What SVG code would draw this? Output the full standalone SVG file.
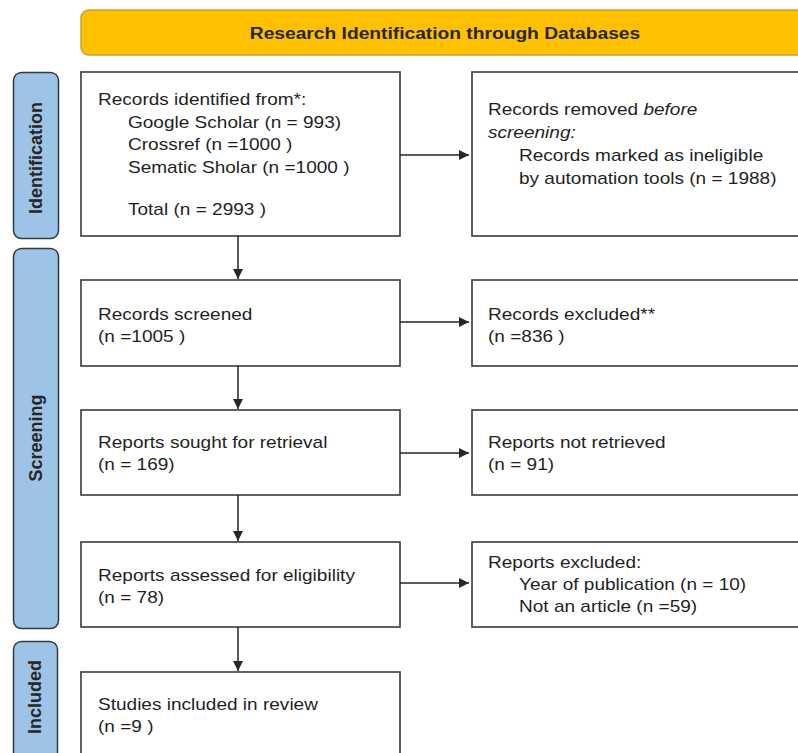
<svg xmlns="http://www.w3.org/2000/svg" width="798" height="753" viewBox="0 0 798 753">
<style>
.bx{fill:#fff;stroke:#3a3a3a;stroke-width:1.6}
.side{fill:#9DC3E6;stroke:#2F3A45;stroke-width:1.5}
.t{font-family:"Liberation Sans",Arial,sans-serif;font-size:17px;fill:#1f1f1f}
.st{font-family:"Liberation Sans",Arial,sans-serif;font-size:18px;font-weight:bold;fill:#262626}
.bt{font-family:"Liberation Sans",Arial,sans-serif;font-size:17px;font-weight:bold;fill:#262626}
.ln{stroke:#262626;stroke-width:1.5;fill:none}
</style>
<defs>
<marker id="ah" viewBox="0 0 10 10" refX="10" refY="5" markerWidth="10" markerHeight="10" markerUnits="userSpaceOnUse" orient="auto">
<path d="M0,0 L10,5 L0,10 z" fill="#262626"/>
</marker>
</defs>
<rect width="798" height="753" fill="#fff"/>
<g id="banner">
<rect x="81" y="10" width="740" height="45" rx="8" fill="#FFC000" stroke="#C8A030" stroke-width="1.5"/>
<text class="bt" transform="translate(445,39) scale(1.13,1)" text-anchor="middle">Research Identification through Databases</text>
</g>
<g id="side-identification">
<rect class="side" x="13.5" y="72.5" width="45" height="166" rx="8"/>
<text class="st" transform="translate(42,158) rotate(-90)" text-anchor="middle">Identification</text>
</g>
<g id="side-screening">
<rect class="side" x="13.5" y="248.5" width="45" height="380" rx="8"/>
<text class="st" transform="translate(42,438) rotate(-90)" text-anchor="middle">Screening</text>
</g>
<g id="side-included">
<rect class="side" x="13.5" y="641.5" width="44" height="130" rx="8"/>
<text class="st" transform="translate(41,697) rotate(-90)" text-anchor="middle">Included</text>
</g>
<g id="n-identified">
<rect class="bx" x="81" y="72" width="319" height="164"/>
<text class="t" transform="translate(98,105) scale(1.12,1)">Records identified from*:</text>
<text class="t" transform="translate(128,127.5) scale(1.12,1)">Google Scholar (n = 993)</text>
<text class="t" transform="translate(128,150) scale(1.12,1)">Crossref (n =1000 )</text>
<text class="t" transform="translate(128,172.5) scale(1.12,1)">Sematic Sholar (n =1000 )</text>
<text class="t" transform="translate(128,215) scale(1.12,1)">Total (n = 2993 )</text>
</g>
<g id="n-removed">
<rect class="bx" x="472" y="72" width="340" height="164"/>
<text class="t" transform="translate(488,115) scale(1.12,1)">Records removed <tspan font-style="italic">before</tspan></text>
<text class="t" transform="translate(488,138) scale(1.12,1)" font-style="italic">screening:</text>
<text class="t" transform="translate(519,161) scale(1.12,1)">Records marked as ineligible</text>
<text class="t" transform="translate(519,184) scale(1.12,1)">by automation tools (n = 1988)</text>
</g>
<g id="n-screened">
<rect class="bx" x="81" y="280" width="319" height="86"/>
<text class="t" transform="translate(98,320) scale(1.12,1)">Records screened</text>
<text class="t" transform="translate(98,342) scale(1.12,1)">(n =1005 )</text>
</g>
<g id="n-excluded">
<rect class="bx" x="472" y="280" width="340" height="86"/>
<text class="t" transform="translate(488,320) scale(1.12,1)">Records excluded**</text>
<text class="t" transform="translate(488,342) scale(1.12,1)">(n =836 )</text>
</g>
<g id="n-sought">
<rect class="bx" x="81" y="410" width="319" height="85"/>
<text class="t" transform="translate(98,448) scale(1.12,1)">Reports sought for retrieval</text>
<text class="t" transform="translate(98,470) scale(1.12,1)">(n = 169)</text>
</g>
<g id="n-notretrieved">
<rect class="bx" x="472" y="410" width="340" height="85"/>
<text class="t" transform="translate(488,448) scale(1.12,1)">Reports not retrieved</text>
<text class="t" transform="translate(488,470) scale(1.12,1)">(n = 91)</text>
</g>
<g id="n-assessed">
<rect class="bx" x="81" y="542" width="319" height="85"/>
<text class="t" transform="translate(98,581) scale(1.12,1)">Reports assessed for eligibility</text>
<text class="t" transform="translate(98,603) scale(1.12,1)">(n = 78)</text>
</g>
<g id="n-reportsexcluded">
<rect class="bx" x="472" y="542" width="340" height="85"/>
<text class="t" transform="translate(488,568) scale(1.12,1)">Reports excluded:</text>
<text class="t" transform="translate(519,590) scale(1.12,1)">Year of publication (n = 10)</text>
<text class="t" transform="translate(519,612) scale(1.12,1)">Not an article (n =59)</text>
</g>
<g id="n-included">
<rect class="bx" x="81" y="672" width="319" height="100"/>
<text class="t" transform="translate(98,710) scale(1.12,1)">Studies included in review</text>
<text class="t" transform="translate(98,732) scale(1.12,1)">(n =9 )</text>
</g>
<g id="connectors">
<line class="ln" x1="400" y1="155" x2="469" y2="155" marker-end="url(#ah)"/>
<line class="ln" x1="400" y1="322" x2="469" y2="322" marker-end="url(#ah)"/>
<line class="ln" x1="400" y1="453" x2="469" y2="453" marker-end="url(#ah)"/>
<line class="ln" x1="400" y1="583" x2="469" y2="583" marker-end="url(#ah)"/>
<line class="ln" x1="238" y1="236" x2="238" y2="279" marker-end="url(#ah)"/>
<line class="ln" x1="238" y1="366" x2="238" y2="409" marker-end="url(#ah)"/>
<line class="ln" x1="238" y1="495" x2="238" y2="541" marker-end="url(#ah)"/>
<line class="ln" x1="238" y1="627" x2="238" y2="671" marker-end="url(#ah)"/>
</g>
</svg>
